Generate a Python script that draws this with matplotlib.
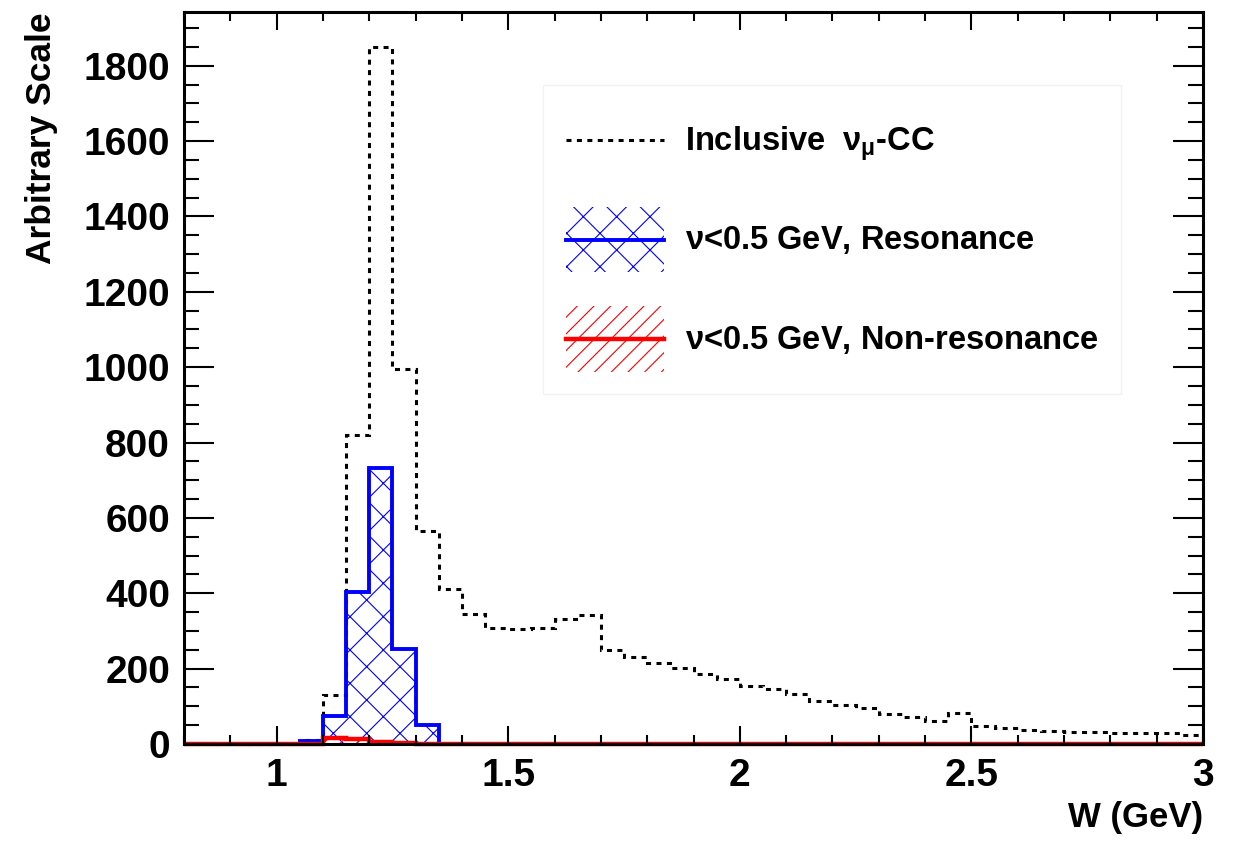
import numpy as np
import matplotlib
matplotlib.use("Agg")
import matplotlib.pyplot as plt
from matplotlib.ticker import MultipleLocator, FuncFormatter
from matplotlib.patches import Rectangle
from matplotlib.lines import Line2D
from matplotlib.legend_handler import HandlerBase

plt.rcParams['font.family'] = ['Liberation Sans', 'DejaVu Sans']
plt.rcParams['font.weight'] = 'bold'
plt.rcParams['mathtext.fontset'] = 'custom'
plt.rcParams['mathtext.rm'] = 'Liberation Sans'
plt.rcParams['mathtext.it'] = 'Liberation Sans'
plt.rcParams['mathtext.bf'] = 'Liberation Sans:bold'
plt.rcParams['hatch.linewidth'] = 0.8

# W histogram, 0.05 GeV bins from 0.8 to 3.0 GeV
w_low = 0.80
bin_width = 0.05

inclusive = [0, 0, 0, 0, 0,
             10, 130, 820, 1850, 995, 565, 410, 345, 309, 304,
             309, 331, 342, 249, 232, 214, 203, 186, 172, 154,
             145, 132, 114, 103, 95, 79, 71, 61, 81, 48,
             42, 37, 34, 33, 31, 30, 29, 28, 24]

resonance = [0, 0, 0, 0, 0,
             8, 75, 403, 733, 251, 50, 0, 0, 0, 0,
             0, 0, 0, 0, 0, 0, 0, 0, 0, 0,
             0, 0, 0, 0, 0, 0, 0, 0, 0, 0,
             0, 0, 0, 0, 0, 0, 0, 0, 0]

non_resonance = [0, 0, 0, 0, 0,
                 0, 16, 14, 6, 2, 0, 0, 0, 0, 0,
                 0, 0, 0, 0, 0, 0, 0, 0, 0, 0,
                 0, 0, 0, 0, 0, 0, 0, 0, 0, 0,
                 0, 0, 0, 0, 0, 0, 0, 0, 0]

labels = [r'Inclusive  $\nu_{\mu}$-CC',
          r'$\nu$<0.5 GeV, Resonance',
          r'$\nu$<0.5 GeV, Non-resonance']

edges = np.round(w_low + bin_width * np.arange(len(inclusive) + 1), 2)


class Entry:
    """legend entry: optional hatched box with a line through its middle"""
    def __init__(self, color, lw, ls='-', hatch=None):
        self.color, self.lw, self.ls, self.hatch = color, lw, ls, hatch


class EntryHandler(HandlerBase):
    def create_artists(self, legend, h, xdescent, ydescent, width, height,
                       fontsize, trans):
        x0, y0 = -xdescent, -ydescent
        out = []
        if h.hatch:
            out.append(Rectangle((x0, y0), width, height, facecolor='none',
                                 edgecolor=h.color, hatch=h.hatch, lw=0,
                                 transform=trans))
        out.append(Line2D([x0, x0 + width], [y0 + height / 2] * 2,
                          color=h.color, lw=h.lw, linestyle=h.ls,
                          transform=trans))
        return out


fig = plt.figure(figsize=(12.36, 8.41), dpi=100)
ax = fig.add_axes([184 / 1236, 97 / 841, 1019 / 1236, 732 / 841])

dots = (0, (1.64, 1.77))

ax.stairs(inclusive, edges, baseline=0, color='black', lw=2.2,
          linestyle=dots, clip_on=False)

ax.stairs(resonance, edges, baseline=0, fill=True, facecolor='none',
          edgecolor='blue', hatch='x', lw=0)
ax.stairs(resonance, edges, baseline=0, color='blue', lw=2.8, clip_on=False)

ax.stairs(non_resonance, edges, baseline=0, fill=True, facecolor='none',
          edgecolor='red', hatch='//', lw=0)
ax.stairs(non_resonance, edges, baseline=0, color='red', lw=3.2, clip_on=False)

ax.set_xlim(0.8, 3.0)
ax.set_ylim(0, 1.05 * max(inclusive))

ax.xaxis.set_major_locator(MultipleLocator(0.5))
ax.xaxis.set_minor_locator(MultipleLocator(0.1))
ax.yaxis.set_major_locator(MultipleLocator(200))
ax.yaxis.set_minor_locator(MultipleLocator(50))
ax.xaxis.set_major_formatter(FuncFormatter(lambda v, p: '%g' % v))

ax.tick_params(which='both', direction='in', top=True, right=True,
               width=1.5, labelsize=28, pad=10)
ax.tick_params(axis='x', which='major', length=13)
ax.tick_params(axis='x', which='minor', length=6.5)
ax.tick_params(axis='y', which='major', length=21.5)
ax.tick_params(axis='y', which='minor', length=10.5)
for s in ax.spines.values():
    s.set_linewidth(2.2)

ax.set_xlabel('W (GeV)', fontsize=25, fontweight='bold', loc='right')
ax.xaxis.set_label_coords(1.0, -0.078)
ax.set_ylabel('Arbitrary Scale', fontsize=25.5, fontweight='bold', loc='top')
ax.yaxis.set_label_coords(-0.124, 1.0)

handles = [Entry('black', 2.2, dots),
           Entry('blue', 2.8, hatch='x'),
           Entry('red', 3.2, hatch='//')]
leg = ax.legend(handles, labels, loc='upper left',
                handler_map={Entry: EntryHandler()},
                bbox_to_anchor=(543 / 1236, 1 - 85 / 841),
                bbox_transform=fig.transFigure,
                prop={'size': 23.5, 'weight': 'bold'},
                handlelength=3.0, handleheight=2.7, labelspacing=1.04,
                handletextpad=0.64, borderpad=0.7, borderaxespad=0,
                frameon=True, fancybox=False, framealpha=1)
leg.get_frame().set_edgecolor('#f2f2f2')
leg.get_frame().set_linewidth(1)

fig.savefig('out.png', dpi=100)
